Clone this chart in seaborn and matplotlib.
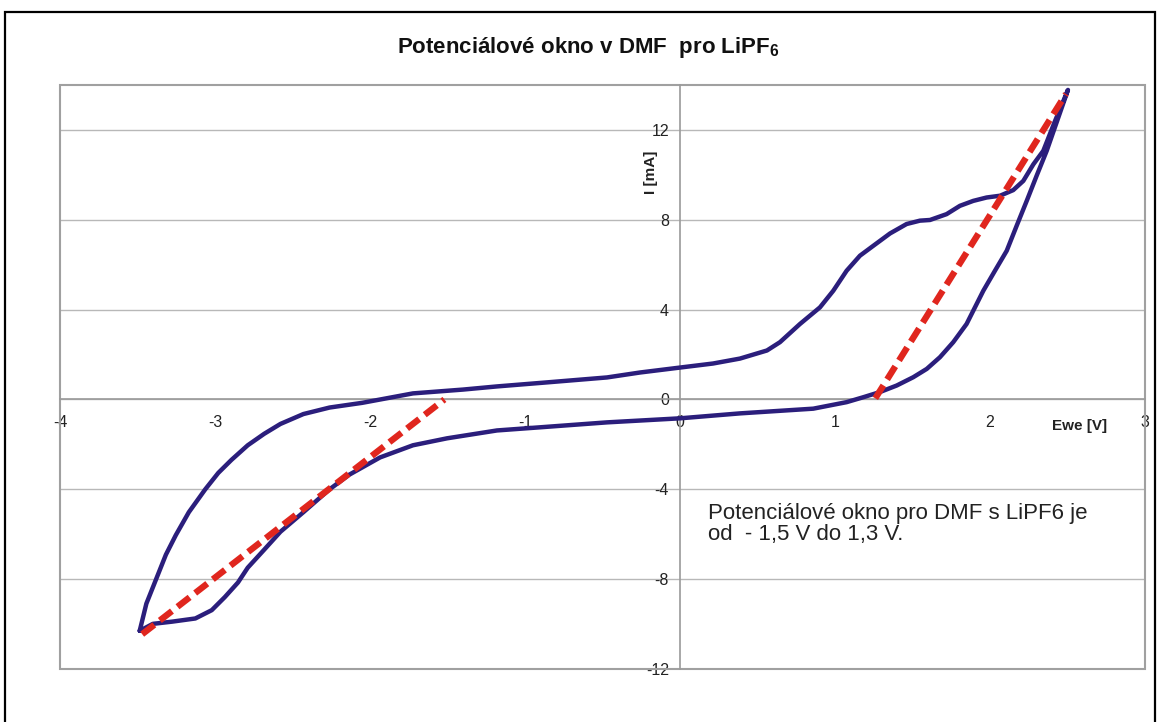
import pandas as pd
import matplotlib
matplotlib.use("Agg")
import matplotlib.pyplot as plt
from matplotlib.patches import Rectangle
import seaborn as sns

# CV krivka (Ewe [V], I [mA])
# dopredny sken: od -3.5 V nahoru do 2.5 V
ewe_fwd = [-3.486, -3.443, -3.380, -3.317, -3.253, -3.169, -3.063, -2.979, -2.894,
           -2.789, -2.683, -2.578, -2.430, -2.261, -2.050, -1.723, -1.400, -1.181,
           -0.858, -0.471, -0.258, 0.000, 0.213, 0.387, 0.561, 0.645, 0.774, 0.903,
           0.989, 1.075, 1.161, 1.247, 1.355, 1.462, 1.548, 1.613, 1.720, 1.806,
           1.892, 1.978, 2.065, 2.150, 2.215, 2.280, 2.344, 2.420, 2.503]
i_fwd = [-10.30, -9.09, -8.00, -6.91, -6.04, -5.02, -4.00, -3.27, -2.69,
         -2.04, -1.53, -1.09, -0.65, -0.36, -0.15, 0.27, 0.44, 0.58,
         0.76, 0.98, 1.20, 1.42, 1.60, 1.82, 2.18, 2.55, 3.36, 4.10,
         4.84, 5.73, 6.40, 6.84, 7.39, 7.81, 7.96, 7.99, 8.25, 8.62,
         8.84, 8.99, 9.07, 9.32, 9.73, 10.47, 11.07, 12.40, 13.78]

# zpetny sken: od 2.5 V zpet na -3.5 V
ewe_rev = [2.366, 2.301, 2.237, 2.172, 2.108, 2.032, 1.957, 1.903, 1.849, 1.763,
           1.677, 1.592, 1.505, 1.398, 1.290, 1.183, 1.075, 0.860, 0.387, 0.000,
           -0.471, -0.903, -1.181, -1.503, -1.723, -1.935, -2.134, -2.261, -2.430,
           -2.578, -2.683, -2.789, -2.852, -2.937, -3.021, -3.127, -3.275, -3.401,
           -3.486]
i_rev = [11.07, 9.96, 8.84, 7.73, 6.62, 5.73, 4.84, 4.10, 3.36, 2.55,
         1.88, 1.36, 0.99, 0.62, 0.33, 0.10, -0.12, -0.41, -0.62, -0.84,
         -1.02, -1.24, -1.38, -1.73, -2.04, -2.58, -3.35, -4.00, -5.02,
         -5.89, -6.69, -7.49, -8.15, -8.80, -9.38, -9.75, -9.89, -9.99,
         -10.30]

# tecny urcujici hranice okna
tan_cat_x = [-3.47, -1.52]
tan_cat_y = [-10.45, 0.0]
tan_an_x = [1.26, 2.49]
tan_an_y = [0.05, 13.6]

x_ticks = [-4, -3, -2, -1, 0, 1, 2, 3]
y_ticks = [-12, -8, -4, 0, 4, 8, 12]

sns.set_style("white")
plt.rcParams['font.family'] = ['Liberation Sans', 'DejaVu Sans']
plt.rcParams['axes.unicode_minus'] = False
plt.rcParams['mathtext.fontset'] = 'custom'
plt.rcParams['mathtext.rm'] = 'Liberation Sans'
plt.rcParams['mathtext.bf'] = 'Liberation Sans:bold'

fig = plt.figure(figsize=(11.59, 7.22), dpi=100)
ax = fig.add_axes([0.0518, 0.0734, 0.9361, 0.8089])

# Krivka CV
cv = pd.DataFrame({"E": ewe_fwd + ewe_rev, "I": i_fwd + i_rev})
sns.lineplot(data=cv, x="E", y="I", sort=False, estimator=None,
             color="#2B1E7C", lw=3.2, ax=ax, zorder=3)
ax.lines[0].set_solid_joinstyle('round')

# Tecny
for tx, ty in [(tan_cat_x, tan_cat_y), (tan_an_x, tan_an_y)]:
    sns.lineplot(x=tx, y=ty, sort=False, estimator=None, color="#E0261E",
                 lw=4.6, linestyle=(0, (2.4, 1.1)), ax=ax, zorder=4)
for ln in ax.lines[1:]:
    ln.set_dash_capstyle('butt')

ax.set_xlim(-4, 3)
ax.set_ylim(-12, 14)
ax.set_xticks(x_ticks)
ax.set_yticks(y_ticks)
ax.set_xlabel("")
ax.set_ylabel("")

# Osy prochazi nulou
for side in ['top', 'right']:
    ax.spines[side].set_visible(False)
for side in ['left', 'bottom']:
    ax.spines[side].set_position(('data', 0))
    ax.spines[side].set_color('#9a9a9a')
    ax.spines[side].set_linewidth(1.2)
ax.add_patch(Rectangle((0, 0), 1, 1, transform=ax.transAxes, fill=False,
                       ec='#a0a0a0', lw=1.5, clip_on=False, zorder=1))

ax.yaxis.grid(True, color='#b8b8b8', lw=1)
ax.xaxis.grid(False)
ax.set_axisbelow(True)
ax.tick_params(axis='x', direction='out', length=4, width=1, color='#9a9a9a',
               pad=7, labelsize=11.5, labelcolor='#222222')
ax.tick_params(axis='y', direction='out', length=4, width=1, color='#9a9a9a',
               pad=4, labelsize=11.5, labelcolor='#222222')

# Popisky os
ax.text(2.58, -1.16, "Ewe [V]", fontsize=11, fontweight='bold',
        ha='center', va='center', color='#222222')
ax.text(-0.187, 10.09, "I [mA]", fontsize=11, fontweight='bold', rotation=90,
        ha='center', va='center', color='#222222')

# Poznamka
ax.text(0.18, -4.6, "Potenciálové okno pro DMF s LiPF6 je\nod  - 1,5 V do 1,3 V.",
        fontsize=16, linespacing=1.02, ha='left', va='top', color='#222222')

# Nadpis
fig.text(588 / 1159, 1 - 47 / 722, r"Potenciálové okno v DMF  pro LiPF$_\mathbf{6}$",
         fontsize=16, fontweight='bold', ha='center', va='center', color='#111111')

# Ramecek grafu
fig.add_artist(Rectangle((5 / 1159, -0.05), 1150 / 1159, 1 - 12 / 722 + 0.05,
                         transform=fig.transFigure, fill=False, ec='black', lw=1.6))

fig.savefig("out.png", dpi=100)
